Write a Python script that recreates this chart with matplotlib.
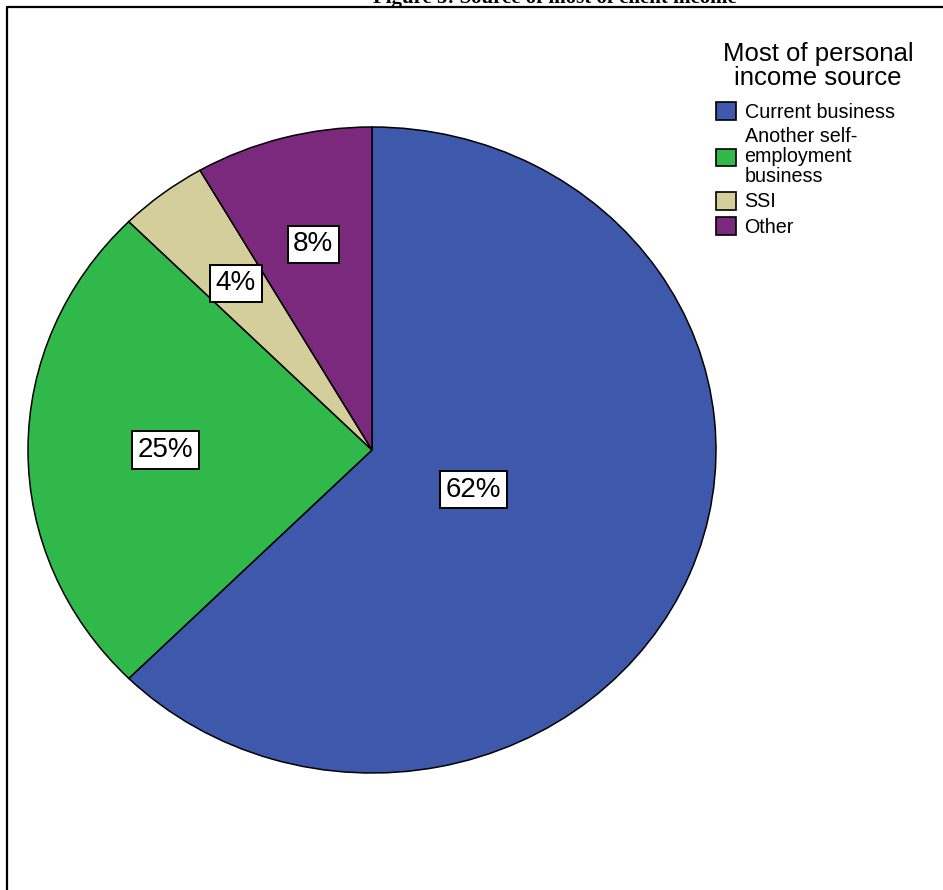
import numpy as np
import matplotlib.pyplot as plt
from matplotlib.lines import Line2D

plt.rcParams['font.family'] = ['Liberation Sans', 'DejaVu Sans']

# data
sources = ['Current business', 'Another self-\nemployment\nbusiness', 'SSI', 'Other']
counts = [15, 6, 1, 2]
pct_labels = ['62%', '25%', '4%', '8%']
colors = ['#3e58ac', '#30b84a', '#d3ce9b', '#7a297c']
label_dist = [0.32, 0.60, 0.65, 0.66]

W, H = 943, 890
fig = plt.figure(figsize=(W / 100, H / 100), dpi=100)

# pie axes, placed in pixels (pie is slightly wider than tall)
left, right, top, bottom = 28, 716, 127, 773
ax = fig.add_axes([left / W, 1 - bottom / H, (right - left) / W, (bottom - top) / H])
wedges, _ = ax.pie(counts, colors=colors, startangle=90, counterclock=False,
                   wedgeprops=dict(edgecolor='black', linewidth=1.1))
ax.set_aspect('auto')
ax.set_xlim(-1, 1)
ax.set_ylim(-1, 1)
ax.axis('off')

# percentage labels in white boxes
total = sum(counts)
cum = 0
for c, lab, d in zip(counts, pct_labels, label_dist):
    mid = cum + c / 2
    ang = np.deg2rad(90 - 360 * mid / total)
    ax.text(d * np.cos(ang), d * np.sin(ang), lab, ha='center', va='center',
            fontsize=20,
            bbox=dict(boxstyle='square,pad=0.2', facecolor='white',
                      edgecolor='black', linewidth=1.4))
    cum += c

# legend title drawn separately to control the gap
fig.text(818 / W, 1 - 66 / H, 'Most of personal\nincome source', ha='center',
         va='center', fontsize=18.5, linespacing=0.95, multialignment='center')

leg = fig.legend(wedges, sources, loc='upper left',
                 bbox_to_anchor=(716 / W, 1 - 102 / H),
                 frameon=False, fontsize=14.2,
                 handlelength=1.0, handleheight=1.0, handletextpad=0.45,
                 labelspacing=0.3, borderaxespad=0, borderpad=0)
for t in leg.get_texts():
    t.set_linespacing(1.05)
for h in leg.legend_handles:
    h.set_edgecolor('black')
    h.set_linewidth(1.2)

# clipped figure title and frame lines
fig.text(555 / W, 1 - 3 / H, 'Figure 5: Source of most of client income',
         ha='center', va='baseline', fontsize=15, fontweight='bold',
         family=['Liberation Serif', 'DejaVu Serif'])
fig.add_artist(Line2D([7 / W, 7 / W, 1.01], [-0.01, 1 - 7 / H, 1 - 7 / H],
                      transform=fig.transFigure, color='black', linewidth=1.6))

fig.savefig('out.png', dpi=100)
